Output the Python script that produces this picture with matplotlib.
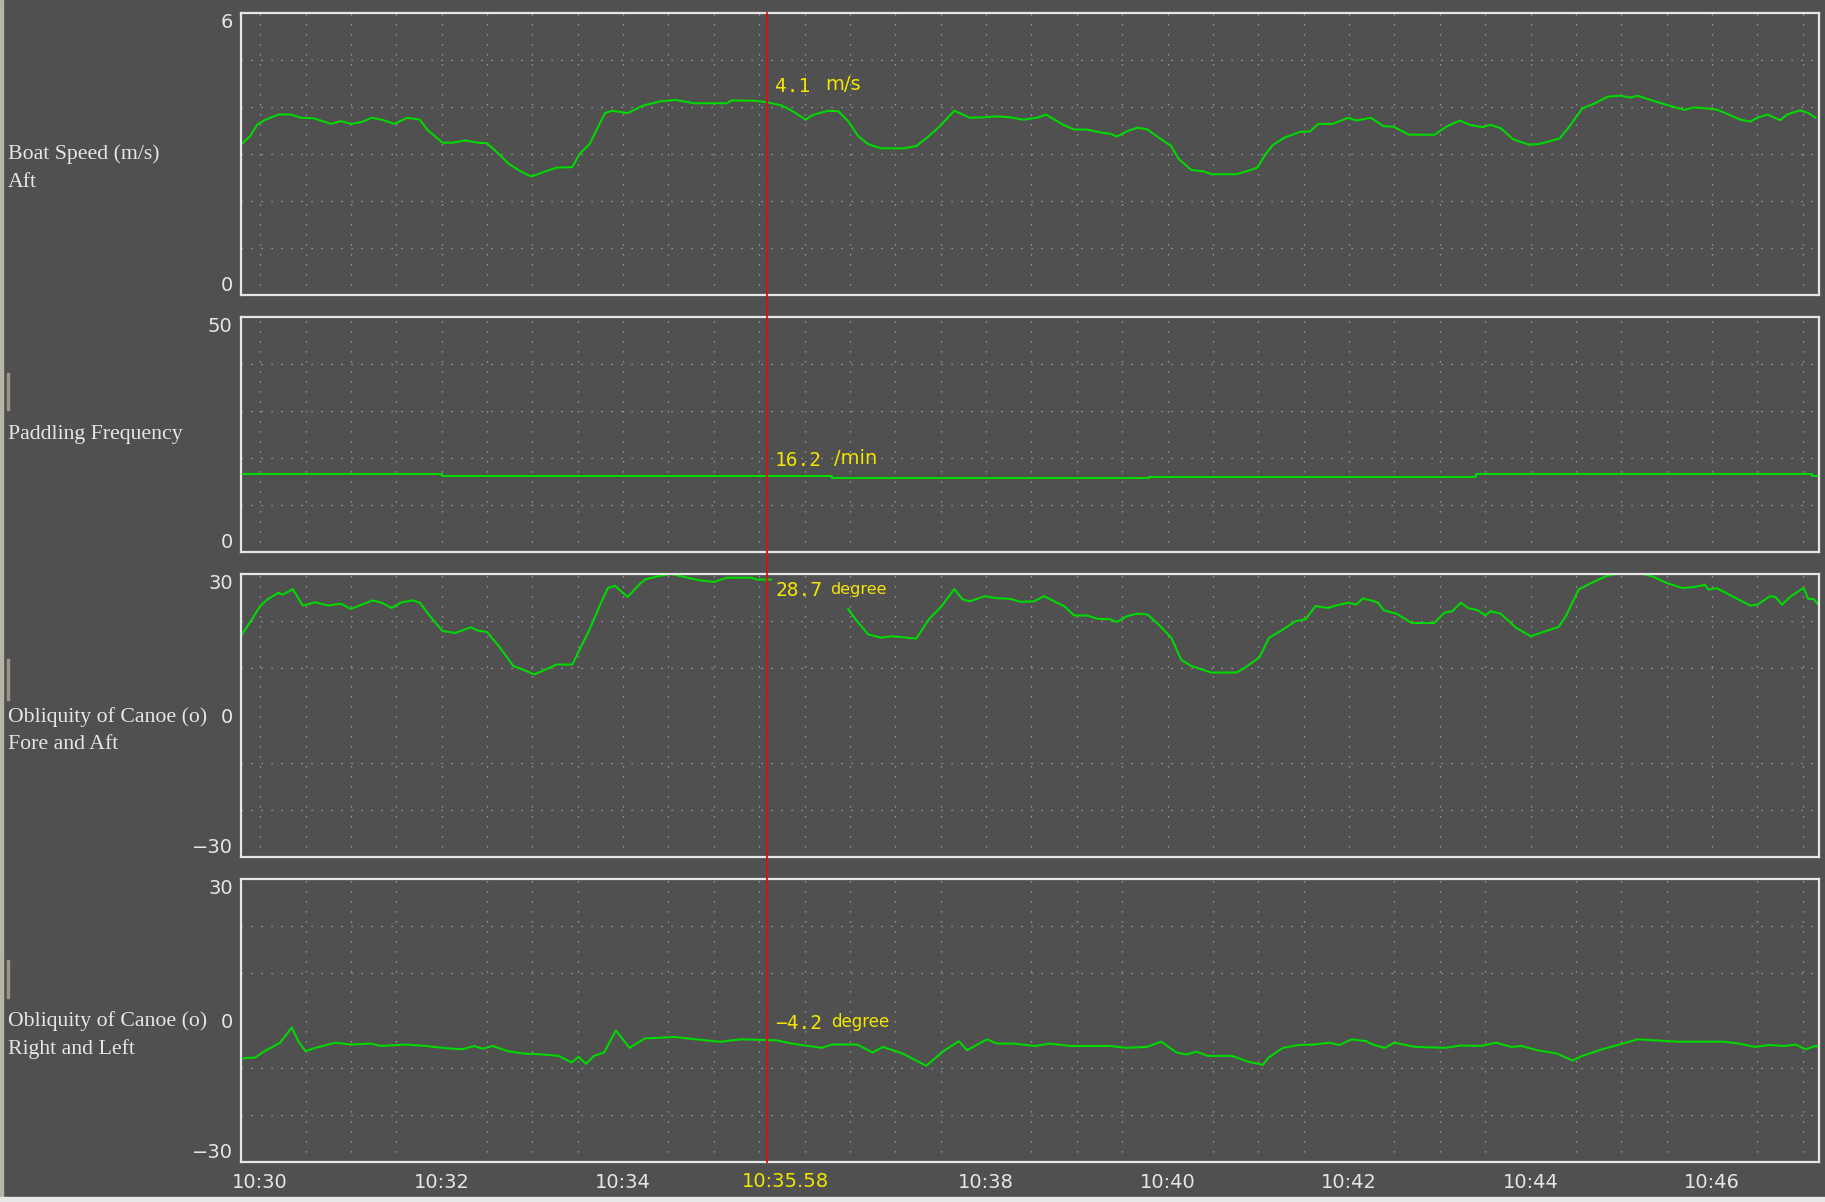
import numpy as np
import matplotlib
matplotlib.use("Agg")
import matplotlib.pyplot as plt
import matplotlib.transforms as mtransforms
from matplotlib.lines import Line2D
from matplotlib.patches import Rectangle

# time axis is minutes after 10:30
cursor_t = 5.59
cursor_label = "10:35.58"
xtick_pos = [0, 2, 4, 8, 10, 12, 14, 16]
xtick_lab = ["10:30", "10:32", "10:34", "10:38", "10:40", "10:42", "10:44", "10:46"]

# boat speed (m/s)
speed_t = [-0.2, -0.11, -0.03, 0.06, 0.2, 0.34, 0.45, 0.59, 0.78, 0.89, 1.0, 1.12, 1.23,
           1.34, 1.48, 1.62, 1.76, 1.84, 2.01, 2.12, 2.26, 2.4, 2.5, 2.63, 2.74, 2.88,
           2.99, 3.13, 3.27, 3.44, 3.52, 3.63, 3.72, 3.8, 3.88, 4.05, 4.22, 4.41, 4.58,
           4.78, 5.14, 5.2, 5.47, 5.59, 5.75, 5.87, 6.01, 6.09, 6.26, 6.37, 6.48, 6.59,
           6.7, 6.84, 7.09, 7.23, 7.35, 7.49, 7.65, 7.82, 7.99, 8.1, 8.27, 8.41, 8.56,
           8.66, 8.84, 8.97, 9.11, 9.28, 9.37, 9.44, 9.56, 9.67, 9.78, 9.9, 10.04, 10.12,
           10.26, 10.4, 10.48, 10.76, 10.85, 10.99, 11.07, 11.16, 11.29, 11.46, 11.57,
           11.66, 11.82, 11.99, 12.08, 12.24, 12.38, 12.49, 12.66, 12.94, 13.08, 13.22,
           13.33, 13.47, 13.56, 13.67, 13.81, 13.98, 14.09, 14.32, 14.43, 14.57, 14.71,
           14.85, 14.99, 15.1, 15.18, 15.32, 15.49, 15.69, 15.8, 15.94, 16.06, 16.17,
           16.31, 16.42, 16.5, 16.61, 16.75, 16.83, 16.97, 17.06, 17.14]
speed_v = [3.22, 3.38, 3.63, 3.73, 3.84, 3.84, 3.77, 3.76, 3.64, 3.7, 3.64, 3.68, 3.77,
           3.73, 3.64, 3.77, 3.73, 3.52, 3.24, 3.24, 3.29, 3.24, 3.23, 3.0, 2.79, 2.62,
           2.52, 2.62, 2.71, 2.72, 3.0, 3.21, 3.56, 3.87, 3.92, 3.87, 4.03, 4.12, 4.15,
           4.08, 4.08, 4.14, 4.13, 4.1, 4.03, 3.91, 3.73, 3.83, 3.92, 3.91, 3.7, 3.38,
           3.21, 3.12, 3.12, 3.17, 3.35, 3.59, 3.92, 3.77, 3.78, 3.8, 3.78, 3.73, 3.77,
           3.84, 3.63, 3.52, 3.52, 3.45, 3.43, 3.37, 3.49, 3.56, 3.52, 3.35, 3.17, 2.9,
           2.66, 2.63, 2.57, 2.57, 2.62, 2.71, 2.97, 3.19, 3.35, 3.47, 3.48,
           3.64, 3.64, 3.77, 3.71, 3.77, 3.59, 3.58, 3.41, 3.41, 3.59, 3.71,
           3.62, 3.57, 3.62, 3.55, 3.31, 3.2, 3.21, 3.33, 3.59, 3.97, 4.08,
           4.22, 4.24, 4.2, 4.24, 4.15, 4.05, 3.94, 3.99, 3.97, 3.94, 3.85,
           3.73, 3.69, 3.77, 3.84, 3.72, 3.84, 3.93, 3.87, 3.77]

# paddling frequency (/min), stepwise
freq_t = [-0.21, 2.0, 6.3, 9.8, 13.4, 17.1, 17.18]
freq_v = [16.5, 16.2, 15.8, 16.0, 16.6, 16.2, 16.2]

# obliquity fore and aft (degree), NaN = gap under the cursor read-out
fore_t = [-0.2, -0.08, 0.0, 0.08, 0.2, 0.25, 0.36, 0.47, 0.61, 0.75, 0.89, 1.0, 1.12,
          1.24, 1.34, 1.45, 1.56, 1.68, 1.76, 1.87, 2.01, 2.15, 2.32, 2.4, 2.5, 2.63,
          2.79, 2.91, 3.02, 3.13, 3.27, 3.44, 3.52, 3.63, 3.74, 3.83, 3.91, 4.05, 4.19,
          4.25, 4.41, 4.53, 4.64, 4.83, 5.0, 5.14, 5.42, 5.47, 5.63, 6.0, 6.48, 6.56,
          6.7, 6.84, 6.96, 7.23, 7.37, 7.51, 7.65, 7.74, 7.82, 7.99, 8.1, 8.27, 8.38,
          8.53, 8.64, 8.78, 8.86, 8.97, 9.11, 9.23, 9.37, 9.44, 9.56, 9.67, 9.78, 9.9,
          10.04, 10.15, 10.26, 10.37, 10.48, 10.76, 10.85, 11.01, 11.12, 11.27, 11.41,
          11.52, 11.63, 11.77, 11.85, 11.99, 12.08, 12.15, 12.24, 12.32, 12.38, 12.52,
          12.69, 12.94, 13.05, 13.14, 13.23, 13.31, 13.42, 13.5, 13.56, 13.67, 13.84,
          14.0, 14.14, 14.31, 14.39, 14.53, 14.67, 14.84, 14.95, 15.15, 15.23, 15.34,
          15.51, 15.68, 15.82, 15.92, 15.96, 16.05, 16.17, 16.28, 16.42, 16.5, 16.64,
          16.7, 16.77, 16.87, 16.98, 17.01, 17.06, 17.12, 17.17]
fore_v = [17.2, 20.7, 23.2, 24.6, 26.0, 25.6, 26.8, 23.3, 24.0, 23.3, 23.7, 22.6, 23.5,
          24.4, 23.9, 22.8, 24.0, 24.4, 23.9, 21.1, 17.9, 17.5, 18.7, 18.0, 17.7, 14.7,
          10.5, 9.6, 8.7, 9.6, 10.8, 10.8, 14.0, 18.2, 23.2, 27.0, 27.5, 25.1, 28.0,
          28.9, 29.6, 30.0, 29.5, 28.7, 28.3, 29.2, 29.2, 28.8, 28.8, np.nan, 22.6, 20.4,
          17.2, 16.5, 16.8, 16.3, 20.4, 23.2, 26.8, 24.6, 24.2, 25.3, 24.9, 24.7, 24.1,
          24.2, 25.3, 23.9, 23.2, 21.2, 21.2, 20.5, 20.4, 19.8, 21.1, 21.6, 21.4, 19.3,
          16.5, 11.8, 10.5, 9.8, 9.1, 9.1, 10.1, 12.3, 16.5, 18.2, 20.0,
          20.4, 23.2, 22.8, 23.3, 23.9, 23.5, 24.8, 24.4, 23.9, 22.3, 21.6,
          19.6, 19.6, 21.8, 22.1, 23.9, 22.8, 22.3, 21.2, 22.1, 21.6, 18.6,
          16.8, 17.7, 18.8, 21.1, 26.7, 28.1, 29.6, 30.0, 30.0, 30.0, 29.5,
          28.0, 27.0, 27.3, 27.7, 26.7, 27.0, 25.8, 24.7, 23.3, 23.5, 25.3,
          25.1, 23.5, 25.3, 26.7, 27.0, 24.7, 24.7, 23.5]

# obliquity right and left (degree)
side_t = [-0.23, -0.14, -0.06, 0.05, 0.22, 0.35, 0.42, 0.5, 0.61, 0.83, 1.0, 1.22, 1.33,
          1.61, 1.83, 2.06, 2.23, 2.36, 2.45, 2.56, 2.73, 2.9, 3.12, 3.29, 3.43, 3.51,
          3.59, 3.68, 3.79, 3.92, 4.07, 4.24, 4.57, 4.8, 5.07, 5.3, 5.69, 5.86, 6.19,
          6.3, 6.58, 6.75, 6.86, 7.08, 7.34, 7.53, 7.7, 7.79, 8.01, 8.12, 8.31, 8.54,
          8.7, 8.93, 9.37, 9.54, 9.77, 9.93, 10.1, 10.21, 10.32, 10.44, 10.71, 10.88,
          11.05, 11.11, 11.27, 11.44, 11.61, 11.78, 11.89, 12.03, 12.19, 12.26, 12.39,
          12.5, 12.73, 13.06, 13.23, 13.45, 13.62, 13.79, 13.9, 14.07, 14.29, 14.46,
          14.57, 14.79, 15.18, 15.63, 16.13, 16.3, 16.47, 16.63, 16.8, 16.92, 17.03,
          17.14, 17.25]
side_v = [-8.2, -7.9, -7.9, -6.5, -4.7, -1.5, -4.4, -6.5, -5.8, -4.7, -5.1, -4.9, -5.4,
          -5.1, -5.4, -5.9, -6.1, -5.4, -6.0, -5.4, -6.5, -7.0, -7.2, -7.5, -8.9, -7.7,
          -9.2, -7.5, -6.8, -2.1, -5.8, -3.8, -3.5, -4.0, -4.5, -4.0, -4.2, -4.9, -5.8,
          -5.1, -5.1, -6.8, -5.6, -7.0, -9.6, -6.5, -4.4, -6.3, -4.0, -4.9, -4.9, -5.4,
          -4.9, -5.4, -5.4, -5.8, -5.6, -4.5, -6.8, -7.2, -6.6, -7.5, -7.5, -8.7,
          -9.4, -7.9, -5.8, -5.2, -5.1, -4.7, -5.2, -4.0, -4.4, -5.1, -5.8,
          -4.7, -5.6, -5.8, -5.3, -5.4, -4.7, -5.6, -5.4, -6.3, -7.0, -8.5,
          -7.5, -6.1, -4.0, -4.5, -4.5, -4.9, -5.6, -5.2, -5.4, -5.1, -6.1,
          -5.4, -5.9]

bg = "#505050"
fg = "#e6e6e6"
green = "#00d800"
yellow = "#f2e600"
red = "#dd1010"
tickfont = ["Liberation Sans Narrow", "DejaVu Sans"]

fig = plt.figure(figsize=(18.25, 12.02), dpi=100, facecolor=bg)

# panel boxes in figure fractions (left, bottom, width, height)
boxes = [(0.1321, 0.7546, 0.8647, 0.2346),
         (0.1321, 0.5408, 0.8647, 0.1955),
         (0.1321, 0.2870, 0.8647, 0.2355),
         (0.1321, 0.0333, 0.8647, 0.2354)]
limits = [(0, 6), (0, 50), (-30, 30), (-30, 30)]
ylabels = [["6", "0"], ["50", "0"], ["30", "0", "\u221230"], ["30", "0", "\u221230"]]
gridstep = [1, 10, 10, 10]
# left labels: (text, y in figure fraction)
titles = [[("Boat Speed (m/s)", 0.8719), ("Aft", 0.8478)],
          [("Paddling Frequency", 0.6389)],
          [("Obliquity of Canoe (o)", 0.4035), ("Fore and Aft", 0.3810)],
          [("Obliquity of Canoe (o)", 0.1506), ("Right and Left", 0.1273)]]
readout = [("4.1", "m/s", 0.741, 42, 14),
           ("16.2", "/min", 0.391, 48, 14),
           ("28.7", "degree", 0.940, 45, 11.5),
           ("\u22124.2", "degree", 0.491, 46, 12)]

axes = []
for i, box in enumerate(boxes):
    ax = fig.add_axes(box, facecolor=bg)
    axes.append(ax)
    lo, hi = limits[i]
    ax.set_xlim(-0.21, 17.18)
    ax.set_ylim(lo, hi)
    for s in ax.spines.values():
        s.set_color(fg)
        s.set_linewidth(1.6)
    ax.set_xticks(np.arange(0, 17.1, 0.5), minor=True)
    ax.set_yticks(np.arange(lo + gridstep[i], hi, gridstep[i]), minor=True)
    ax.grid(which="minor", color="#a8a8a8", linewidth=0.9, linestyle=(0, (1, 7)))
    ax.tick_params(which="both", length=0, colors=fg)
    if lo < 0:
        ax.set_yticks([hi, 0, lo])
    else:
        ax.set_yticks([hi, lo])
    ax.set_yticklabels(ylabels[i], family=tickfont, fontsize=14, color=fg)
    labs = ax.get_yticklabels()
    labs[0].set_va("top")
    labs[-1].set_va("bottom")
    ax.tick_params(axis="y", pad=6)
    if i < 3:
        ax.set_xticks([])
    else:
        ax.set_xticks(xtick_pos)
        ax.set_xticklabels(xtick_lab, family=tickfont, fontsize=14, color=fg)
        ax.tick_params(axis="x", pad=8)
        ax.annotate(cursor_label, xy=(cursor_t, 0), xycoords=("data", "axes fraction"),
                    xytext=(13, -14), textcoords="offset points", ha="center", va="center",
                    color=yellow, fontsize=14, family=tickfont, annotation_clip=False)

    for txt, yf in titles[i]:
        fig.text(0.0045, yf, txt, family="Liberation Serif", fontsize=15.7,
                 color=fg, va="center")

    # cursor read-out
    val, unit, yf, uoff, usize = readout[i]
    ax.annotate(val, xy=(cursor_t, yf), xycoords=("data", "axes fraction"),
                xytext=(5.5, 0), textcoords="offset points", va="center", color=yellow,
                fontsize=14, family=["DejaVu Sans Mono"], zorder=5)
    ax.annotate(unit, xy=(cursor_t, yf), xycoords=("data", "axes fraction"),
                xytext=(uoff, 1), textcoords="offset points", va="center", color=yellow,
                fontsize=usize, family=["DejaVu Sans"], zorder=5)

axes[0].plot(speed_t, speed_v, color=green, linewidth=1.5)
axes[1].plot(freq_t, freq_v, color=green, linewidth=1.5, drawstyle="steps-post")
axes[2].plot(fore_t, fore_v, color=green, linewidth=1.5)
axes[3].plot(side_t, side_v, color=green, linewidth=1.5)

# red cursor line across all panels
trans = mtransforms.blended_transform_factory(axes[0].transData, fig.transFigure)
fig.add_artist(Line2D([cursor_t, cursor_t], [0.0333, 0.9892], transform=trans,
                      color=red, linewidth=1.3, zorder=10))

# window frame bits
fig.add_artist(Rectangle((0, 0), 0.0016, 1, transform=fig.transFigure, color="#b8b4a8"))
fig.add_artist(Rectangle((0, 0), 1, 0.004, transform=fig.transFigure, color="#e8e8e8"))
for y0, y1 in [(0.659, 0.690), (0.418, 0.452), (0.170, 0.201)]:
    fig.add_artist(Rectangle((0.0038, y0), 0.0012, y1 - y0, transform=fig.transFigure,
                             color="#9a9688"))

fig.savefig("out.png", dpi=100, facecolor=bg)
